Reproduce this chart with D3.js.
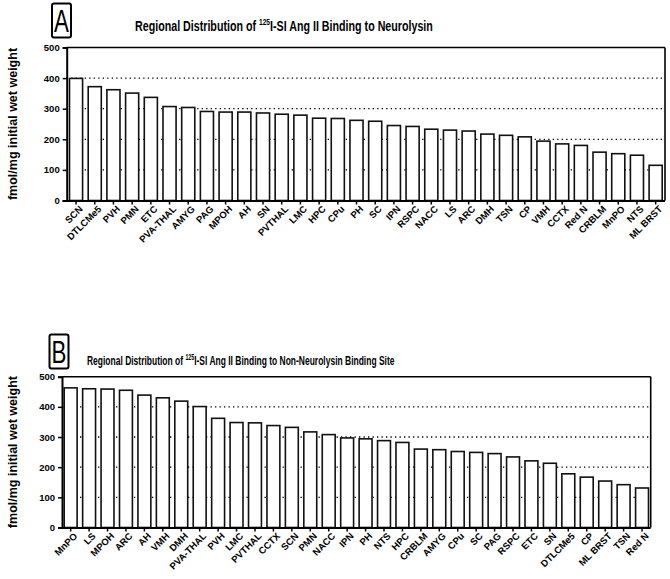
<!DOCTYPE html>
<html><head><meta charset="utf-8">
<script src="https://cdn.jsdelivr.net/npm/d3@7"></script>
<style>body{margin:0;background:#fff}svg{display:block}</style>
</head><body>
<svg id="c" width="670" height="579"></svg>
<script>
const catsA = ["SCN","DTLCMe5","PVH","PMN","ETC","PVA-THAL","AMYG","PAG","MPOH","AH","SN","PVTHAL","LMC","HPC","CPu","PH","SC","IPN","RSPC","NACC","LS","ARC","DMH","TSN","CP","VMH","CCTX","Red N","CRBLM","MnPO","NTS","ML BRST"];
const valsA = [399,372,362,351,337,307,304,291,289,289,286,282,279,269,268,262,259,245,242,233,230,227,217,213,208,194,185,180,158,153,148,115];
const catsB = ["MnPO","LS","MPOH","ARC","AH","VMH","DMH","PVA-THAL","PVH","LMC","PVTHAL","CCTX","SCN","PMN","NACC","IPN","PH","NTS","HPC","CRBLM","AMYG","CPu","SC","PAG","RSPC","ETC","SN","DTLCMe5","CP","ML BRST","TSN","Red N"];
const valsB = [463,460,459,455,439,430,419,401,362,348,347,338,332,317,308,297,294,288,282,260,258,252,249,245,234,221,213,178,167,154,142,131];
const yTicks = [0,100,200,300,400,500];
const gridVals = [100,200,300,400];
const titleA = ["Regional Distribution of ","125","I-SI Ang II Binding to Neurolysin"];
const titleB = ["Regional Distribution of ","125","I-SI Ang II Binding to Non-Neurolysin Binding Site"];
const yLabel = "fmol/mg initial wet weight";

const svg = d3.select("#c");
const sans = "'Liberation Sans',Arial,sans-serif";

function panel(cfg){
  const g = svg.append("g");
  const x = d3.scaleBand().domain(cfg.cats).range([cfg.x0, cfg.x1]).paddingInner(0.3).paddingOuter(cfg.po);
  const y = d3.scaleLinear().domain([0,500]).range([cfg.y0, cfg.y1]);
  g.selectAll(".grid").data(gridVals).enter().append("line")
    .attr("x1", cfg.x0).attr("x2", cfg.x1).attr("y1", d=>y(d)).attr("y2", d=>y(d))
    .attr("stroke","#000").attr("stroke-width",1.3).attr("stroke-dasharray","1.3,3.2");
  g.selectAll(".bar").data(cfg.cats).enter().append("rect")
    .attr("x", d=>x(d)).attr("width", x.bandwidth())
    .attr("y", (d,i)=>y(cfg.vals[i])).attr("height", (d,i)=>y(0)-y(cfg.vals[i]))
    .attr("fill","#fff").attr("stroke","#111").attr("stroke-width",1.6);
  g.append("line").attr("x1",cfg.x0).attr("x2",cfg.x1).attr("y1",y(500)).attr("y2",y(500)).attr("stroke","#000").attr("stroke-width",1.6);
  g.append("line").attr("x1",cfg.x1).attr("x2",cfg.x1).attr("y1",y(500)).attr("y2",y(0)).attr("stroke","#000").attr("stroke-width",1.6);
  const ya = g.append("g").attr("transform",`translate(${cfg.x0},0)`)
    .call(d3.axisLeft(y).tickValues(yTicks).tickSize(4).tickPadding(3));
  ya.select(".domain").attr("stroke-width",2);
  ya.selectAll(".tick line").attr("stroke-width",1.5);
  ya.selectAll("text").attr("font-family",sans).attr("font-weight","bold").attr("font-size",9.5).attr("fill","#000");
  const xa = g.append("g").attr("transform",`translate(0,${y(0)})`)
    .call(d3.axisBottom(x).tickSize(4).tickSizeOuter(0).tickPadding(2));
  xa.select(".domain").attr("stroke-width",2).attr("d",`M${cfg.x0-4},0.5H${cfg.x1}`);
  xa.selectAll(".tick line").attr("stroke-width",1.5);
  xa.selectAll("text").attr("font-family",sans).attr("font-weight","bold").attr("font-size",9.5).attr("fill","#000")
    .attr("text-anchor","end").attr("dy",0).attr("transform","translate(3,5) rotate(-45)");
  g.append("text").attr("transform",`translate(${cfg.ylx},${(y(0)+y(500))/2}) rotate(-90)`)
    .attr("text-anchor","middle").attr("font-family",sans).attr("font-weight","bold").attr("font-size",12.5).text(yLabel);
  const tg = g.append("g");
  const t = tg.append("text").attr("x",0).attr("y",0)
    .attr("font-family",sans).attr("font-weight","bold").attr("font-size",cfg.tfs);
  t.append("tspan").text(cfg.title[0]);
  t.append("tspan").attr("font-size",cfg.tfs*0.62).attr("dy",-cfg.tfs*0.4).text(cfg.title[1]);
  t.append("tspan").attr("dy",cfg.tfs*0.4).text(cfg.title[2]);
  const w = t.node().getBBox().width;
  tg.attr("transform",`translate(${cfg.tx0},${cfg.ty}) scale(${cfg.tw/w},1)`);
  g.append("rect").attr("x",cfg.bx).attr("y",cfg.by).attr("width",19).attr("height",34).attr("rx",2)
    .attr("fill","none").attr("stroke","#000").attr("stroke-width",2);
  g.append("text").attr("transform",`translate(${cfg.bx+9.5},${cfg.by+28}) scale(0.72,1)`).attr("text-anchor","middle")
    .attr("font-family",sans).attr("font-size",31).text(cfg.letter);
}

panel({cats:catsA, vals:valsA, x0:66.7, x1:665, po:0.15, y0:200.5, y1:47.5, ylx:17, tx0:135, tw:298, tfs:15, ty:31, title:titleA, bx:52, by:3.5, letter:"A"});
panel({cats:catsB, vals:valsB, x0:62, x1:650.7, po:0.12, y0:527.5, y1:376.7, ylx:17, tx0:87, tw:308, tfs:13.5, ty:365, title:titleB, bx:49.5, by:334.5, letter:"B"});
</script>
</body></html>
